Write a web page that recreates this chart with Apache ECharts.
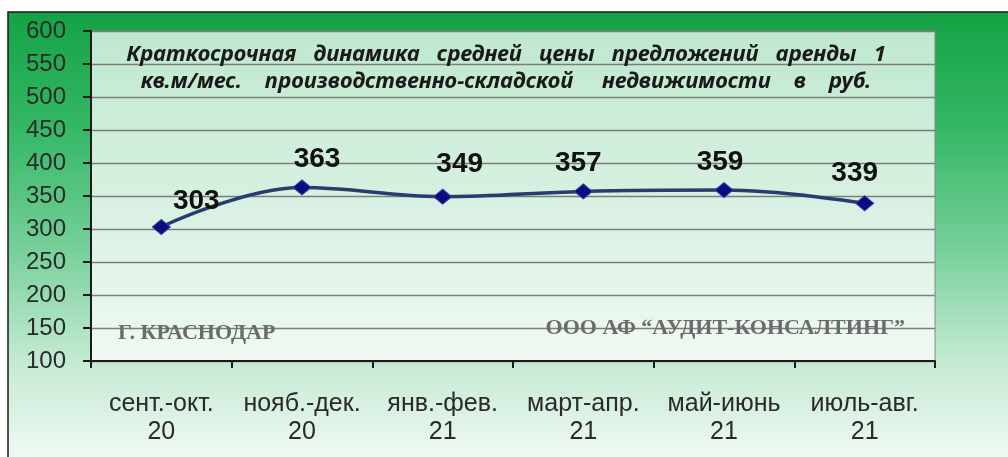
<!DOCTYPE html>
<html>
<head>
<meta charset="utf-8">
<script src="https://cdn.jsdelivr.net/npm/echarts@6/dist/echarts.min.js"></script>
<style>
  html, body { margin: 0; padding: 0; background: #ffffff; }
  #chart { width: 1008px; height: 457px; }
</style>
</head>
<body>
<div id="chart"></div>
<script>
// ---- data ----
const categories = ['сент.-окт.\n20', 'нояб.-дек.\n20', 'янв.-фев.\n21', 'март-апр.\n21', 'май-июнь\n21', 'июль-авг.\n21'];
const values = [303, 363, 349, 357, 359, 339];
const yTicks = { min: 100, max: 600, step: 50 };
const titleLines = ['Краткосрочная   динамика   средней   цены   предложений   аренды   1', 'кв.м/мес.    производственно-складской     недвижимости    в    руб.'];
const cityText = 'Г. КРАСНОДАР';
const companyText = 'ООО АФ “АУДИТ-КОНСАЛТИНГ”';

// label nudges (style only)
const labelNudge = [[35, 2], [15, 0], [17, -4], [-5, 0], [-4, 0], [-10, -2]];

const chart = echarts.init(document.getElementById('chart'), null, { renderer: 'canvas' });

const seriesData = values.map((v, i) => ({
  value: v,
  label: { offset: labelNudge[i] }
}));

const option = {
  backgroundColor: '#ffffff',
  animation: false,
  graphic: [
    {
      type: 'rect', z: -10, silent: true,
      shape: { x: 8, y: 12, width: 1010, height: 460 },
      style: {
        fill: new echarts.graphic.LinearGradient(0, 0, 0, 1, [
          { offset: 0, color: '#14a244' },
          { offset: 0.25, color: '#34b765' },
          { offset: 0.5, color: '#72ce96' },
          { offset: 0.75, color: '#c2e9d1' },
          { offset: 1, color: '#f6fbf8' }
        ]),
        stroke: '#1a1a1a', lineWidth: 1.5
      }
    },
    {
      type: 'text', z: 10, silent: true,
      style: {
        text: titleLines.join('\n'),
        x: 506, y: 68,
        align: 'center', verticalAlign: 'middle',
        font: 'italic bold 22px "Noto Sans", "Open Sans", sans-serif',
        lineHeight: 27,
        fill: '#1a1a1a'
      }
    },
    {
      type: 'text', z: 10, silent: true,
      style: {
        text: cityText, x: 118, y: 333, verticalAlign: 'middle',
        font: 'bold 22px "Liberation Serif", serif',
        fill: '#6b6b6b',
        shadowColor: 'rgba(0,0,0,0.35)', shadowBlur: 1, shadowOffsetX: 1, shadowOffsetY: 1
      }
    },
    {
      type: 'text', z: 10, silent: true,
      style: {
        text: companyText, x: 905, y: 328, align: 'right', verticalAlign: 'middle',
        font: 'bold 22px "Liberation Serif", serif',
        fill: '#6b6b6b',
        shadowColor: 'rgba(0,0,0,0.35)', shadowBlur: 1, shadowOffsetX: 1, shadowOffsetY: 1
      }
    }
  ],
  grid: {
    left: 91, right: 73, top: 31, bottom: 96,
    show: true,
    backgroundColor: new echarts.graphic.LinearGradient(0, 0, 0, 1, [
      { offset: 0, color: '#bfe8cf' },
      { offset: 1, color: '#f0f9f3' }
    ]),
    borderColor: '#7f8c84', borderWidth: 1
  },
  xAxis: {
    type: 'category',
    data: categories,
    boundaryGap: true,
    axisLine: { show: true, lineStyle: { color: '#1a1a1a', width: 2 } },
    axisTick: { show: true, length: 7, lineStyle: { color: '#1a1a1a', width: 2 } },
    axisLabel: { interval: 0, hideOverlap: false, fontSize: 25, lineHeight: 28, color: '#2a2a2a', margin: 29, fontFamily: 'Liberation Sans, Arial, sans-serif' },
    splitLine: { show: false }
  },
  yAxis: {
    type: 'value',
    min: yTicks.min, max: yTicks.max, interval: yTicks.step,
    axisLine: { show: true, lineStyle: { color: '#1a1a1a', width: 2 } },
    axisTick: { show: true, length: 8, lineStyle: { color: '#1a1a1a', width: 2 } },
    axisLabel: { fontSize: 24, color: '#2a2a2a', margin: 25, fontFamily: 'Liberation Sans, Arial, sans-serif' },
    splitLine: { show: true, lineStyle: { color: '#7a7f7a', width: 1.3 } }
  },
  series: [{
    type: 'line',
    data: seriesData,
    smooth: 0.4,
    symbol: 'diamond',
    symbolSize: [18, 15],
    lineStyle: { color: '#263d6e', width: 3.5 },
    itemStyle: { color: '#0c0c80', borderColor: '#3a3aa0', borderWidth: 1 },
    label: {
      show: true, position: 'top', distance: 6,
      fontSize: 28, fontWeight: 'bold', color: '#111111',
      fontFamily: 'Liberation Sans, Arial, sans-serif'
    },
    z: 5
  }]
};

chart.setOption(option);
</script>
</body>
</html>
